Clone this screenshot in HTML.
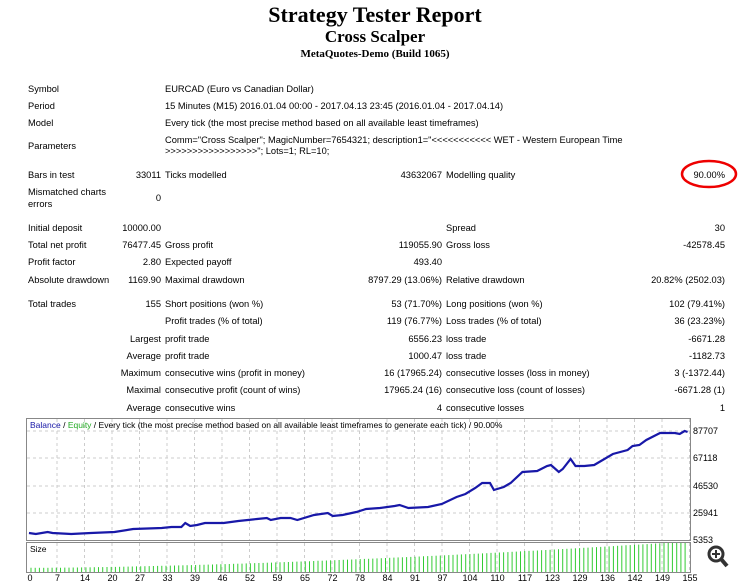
<!DOCTYPE html>
<html><head><meta charset="utf-8"><style>
body{margin:0;width:750px;height:584px;background:#fff;position:relative;overflow:hidden;font-family:"Liberation Sans",sans-serif;font-size:9.3px;color:#000}
.t{position:absolute;white-space:nowrap;line-height:12px}
.h{position:absolute;width:750px;text-align:center;font-family:"Liberation Serif",serif;font-weight:bold}
</style></head><body>
<div class="h" style="top:2px;font-size:22px">Strategy Tester Report</div>
<div class="h" style="top:27px;font-size:17px">Cross Scalper</div>
<div class="h" style="top:48px;font-size:11px">MetaQuotes-Demo (Build 1065)</div>
<div id="c"></div>
<svg style="position:absolute;left:0;top:0" width="750" height="584">
<ellipse cx="709" cy="174" rx="27" ry="13" fill="none" stroke="#e00" stroke-width="2.5"/>
<rect x="26.5" y="418.5" width="664" height="122" fill="#fff" stroke="#888"/>
<rect x="26.5" y="542.5" width="664" height="30" fill="#fff" stroke="#888"/>
<g id="grid" stroke="#ccc" stroke-dasharray="3,3"></g>
<g id="bars" stroke="#33cc33"></g>
<g transform="translate(27,0) scale(0.983,1) translate(-27,0)">
<polyline fill="none" stroke="#1818a8" stroke-width="2.2" vector-effect="non-scaling-stroke" points="29,533 36,534 48,532 53,533 72,534 92,533 116,532 135,529 164,528 174,527 184,527 188,523 193,526 200,525 208,523 227,523 242,521 261,519 271,518 275,520 285,518 295,518 302,520 319,515 333,513 338,516 348,515 362,512 372,509 386,508 401,506 406,505 415,508 435,507 449,504 464,497 473,494 483,488 490,483 498,483 502,490 512,487 519,483 531,472 546,471 556,466 560,465 568,472 572,469 580,459 585,466 594,466 604,465 623,454 638,450 643,446 650,445 657,440 671,433 686,433 691,434 696,431 699,432"/>
</g>
<g id="ax" font-size="9" font-family="Liberation Sans,sans-serif"></g>
<text x="30" y="428" font-size="8.5"><tspan fill="#1818a8">Balance</tspan> / <tspan fill="#22aa22">Equity</tspan> / Every tick (the most precise method based on all available least timeframes to generate each tick) / 90.00%</text>
<text x="30" y="552" font-size="8.5">Size</text>
<circle cx="716" cy="554" r="7" fill="none" stroke="#333" stroke-width="3"/>
<line x1="721" y1="559" x2="727" y2="566" stroke="#333" stroke-width="4"/>
<line x1="712" y1="554" x2="720" y2="554" stroke="#333" stroke-width="2"/><line x1="716" y1="550" x2="716" y2="558" stroke="#333" stroke-width="2"/>
</svg>
<script>
var c=document.getElementById('c'),h='';
function L(x,y,s){h+='<div class="t" style="left:'+x+'px;top:'+(y-4)+'px">'+s+'</div>';}
function R(x,y,s){h+='<div class="t" style="right:'+(750-x)+'px;top:'+(y-4)+'px">'+s+'</div>';}
L(28,87,'Symbol');L(165,87,'EURCAD (Euro vs Canadian Dollar)');
L(28,104,'Period');L(165,104,'15 Minutes (M15) 2016.01.04 00:00 - 2017.04.13 23:45 (2016.01.04 - 2017.04.14)');
L(28,121,'Model');L(165,121,'Every tick (the most precise method based on all available least timeframes)');
L(28,144,'Parameters');L(165,138,'Comm="Cross Scalper"; MagicNumber=7654321; description1="&lt;&lt;&lt;&lt;&lt;&lt;&lt;&lt;&lt;&lt;&lt; WET - Western European Time');L(165,149,'&gt;&gt;&gt;&gt;&gt;&gt;&gt;&gt;&gt;&gt;&gt;&gt;&gt;&gt;&gt;&gt;&gt;"; Lots=1; RL=10;');
L(28,173,'Bars in test');R(161,173,'33011');L(165,173,'Ticks modelled');R(442,173,'43632067');L(446,173,'Modelling quality');R(725,173,'90.00%');
L(28,190,'Mismatched charts');L(28,202,'errors');R(161,196,'0');
var rows=[[226,'Initial deposit','10000.00','','','Spread','30'],
[243,'Total net profit','76477.45','Gross profit','119055.90','Gross loss','-42578.45'],
[260,'Profit factor','2.80','Expected payoff','493.40','',''],
[278,'Absolute drawdown','1169.90','Maximal drawdown','8797.29 (13.06%)','Relative drawdown','20.82% (2502.03)'],
[302,'Total trades','155','Short positions (won %)','53 (71.70%)','Long positions (won %)','102 (79.41%)'],
[319,'','','Profit trades (% of total)','119 (76.77%)','Loss trades (% of total)','36 (23.23%)'],
[337,'','Largest','profit trade','6556.23','loss trade','-6671.28'],
[354,'','Average','profit trade','1000.47','loss trade','-1182.73'],
[371,'','Maximum','consecutive wins (profit in money)','16 (17965.24)','consecutive losses (loss in money)','3 (-1372.44)'],
[388,'','Maximal','consecutive profit (count of wins)','17965.24 (16)','consecutive loss (count of losses)','-6671.28 (1)'],
[406,'','Average','consecutive wins','4','consecutive losses','1']];
rows.forEach(function(r){var y=r[0];L(28,y,r[1]);R(161,y,r[2]);L(165,y,r[3]);R(442,y,r[4]);L(446,y,r[5]);R(725,y,r[6]);});
c.innerHTML=h;
var g='',i;
for(i=0;i<24;i++){var x=57+i*27.5;g+='<line x1="'+x+'" y1="419" x2="'+x+'" y2="540"/><line x1="'+x+'" y1="543" x2="'+x+'" y2="572"/>';}
[431,458,486,513].forEach(function(y){g+='<line x1="27" y1="'+y+'" x2="690" y2="'+y+'"/>';});
document.getElementById('grid').innerHTML=g;
var b='';
for(i=0;i<156;i++){var x=31+i*4.22,v=Math.min(1,0.08+0.92*Math.pow(i/150,1.6));var hh=2+v*27;b+='<line x1="'+x.toFixed(1)+'" y1="572" x2="'+x.toFixed(1)+'" y2="'+(572-hh).toFixed(1)+'"/>';}
document.getElementById('bars').innerHTML=b;
var a='';
[[431,'87707'],[458,'67118'],[486,'46530'],[513,'25941'],[540,'5353']].forEach(function(p){a+='<text x="693" y="'+(p[0]+3)+'">'+p[1]+'</text>';});
var lb=['0','7','14','20','27','33','39','46','52','59','65','72','78','84','91','97','104','110','117','123','129','136','142','149','155'];
lb.forEach(function(s,k){a+='<text x="'+(30+k*27.5)+'" y="581" text-anchor="middle">'+s+'</text>';});
document.getElementById('ax').innerHTML=a;
</script>
</body></html>
